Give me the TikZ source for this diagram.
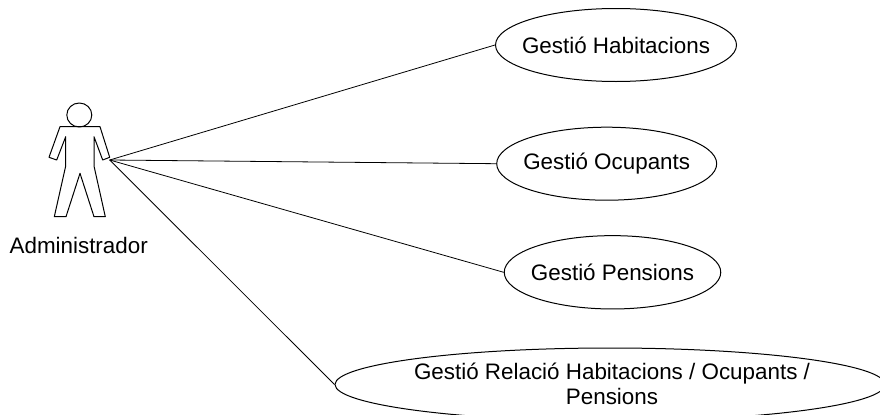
\documentclass[tikz,border=0pt]{standalone}
\usepackage{fontspec}
\setmainfont{Liberation Sans}
\usetikzlibrary{shapes.geometric}
\begin{document}
\begin{tikzpicture}[x=0.75pt,y=-0.75pt,line join=round,
  uc/.style={draw=black,line width=0.75pt,ellipse,inner sep=0pt,fill=white},
  lbl/.style={font=\fontsize{16.8pt}{19.1pt}\selectfont,align=center,inner sep=0pt},
  assoc/.style={draw=black,line width=0.6pt},
  actorline/.style={draw=black,line width=0.75pt}]
\useasboundingbox (0,0) rectangle (880,414);
\clip (0,0) rectangle (880,414);
% actor
\coordinate (hand) at (109.7,160);
\draw[actorline] (79.3,115) ellipse [x radius=12.5,y radius=12];
\draw[actorline] (60,126.7) -- (100,126.7) -- (109.7,157.3) -- (102.7,160) -- (94,136.7) -- (94,166) -- (105.3,216.7) -- (94,216.7) -- (80,173.3) -- (66,216.7) -- (54.3,216.7) -- (65.7,166) -- (65.7,136.7) -- (56.7,160) -- (49,157.3) -- cycle;
\node[lbl] (actorlabel) at (78.7,245) {Administrador};
% use cases
\node[uc,minimum width=180.75pt,minimum height=54.75pt] (e1) at (616,45) {};
\node[uc,minimum width=165pt,minimum height=54.75pt] (e2) at (606.7,163.7) {};
\node[uc,minimum width=162.4pt,minimum height=55pt] (e3) at (612.5,272.3) {};
\node[uc,minimum width=412.5pt,minimum height=54.75pt] (e4) at (610,384.5) {};
\node[lbl] (t1) at (e1.center) {Gestió Habitacions};
\node[lbl] (t2) at (e2.center) {Gestió Ocupants};
\node[lbl] (t3) at (e3.center) {Gestió Pensions};
\node[lbl] (t4) at (612,384) {Gestió Relació Habitacions / Ocupants /\\Pensions};
% connectors
\draw[assoc] (hand) -- (e1.west);
\draw[assoc] (hand) -- (e2.west);
\draw[assoc] (hand) -- (e3.west);
\draw[assoc] (hand) -- (e4.west);
\end{tikzpicture}
\end{document}
